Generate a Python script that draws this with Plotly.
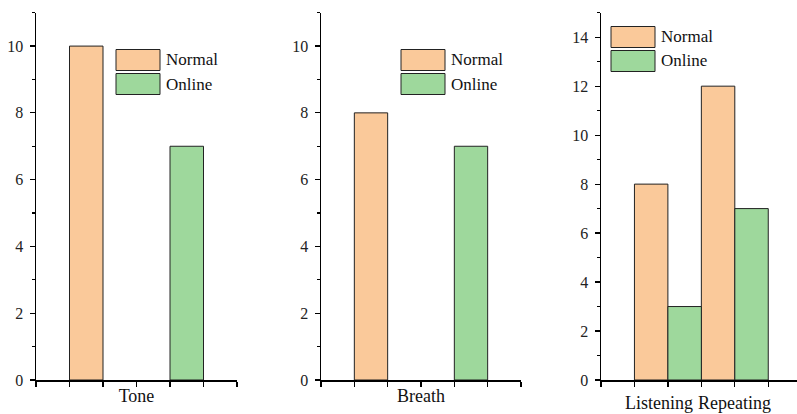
import plotly.graph_objects as go

# ---- data ----
categories = ["Tone", "Breath", "Listening", "Repeating"]
series_names = ["Normal", "Online"]
normal = [10, 8, 8, 12]
online = [7, 7, 3, 7]

# ---- style ----
W, H = 797, 414
FONT = "Liberation Serif"
C_NORMAL = "#FAC99A"
C_ONLINE = "#9ED89C"
EDGE = "#222222"
colors = [C_NORMAL, C_ONLINE]

def px_x(x):
    return x / W

def px_y(y):
    return 1 - y / H

fig = go.Figure()

# panels 1 & 2: one category each, Normal / Online bars separated
for p in range(2):
    xa = "x" if p == 0 else "x2"
    ya = "y" if p == 0 else "y2"
    vals = [normal[p], online[p]]
    for s in range(2):
        fig.add_trace(go.Bar(
            x=[1.5 + 3 * s], y=[vals[s]], width=1,
            name=series_names[s], marker=dict(color=colors[s], line=dict(color=EDGE, width=1)),
            xaxis=xa, yaxis=ya, showlegend=False))

# panel 3: Listening & Repeating grouped
for s, vals in enumerate([normal[2:], online[2:]]):
    fig.add_trace(go.Bar(
        x=[1.5 + s + 2 * k for k in range(len(vals))], y=vals, width=1,
        name=series_names[s], marker=dict(color=colors[s], line=dict(color=EDGE, width=1)),
        xaxis="x3", yaxis="y3", showlegend=False))

ydom = [34 / H, (H - 12.7) / H]
common_x = dict(showline=True, linecolor="black", linewidth=1.5, ticks="outside", ticklen=5,
                tickcolor="black", tickwidth=1.2, dtick=1, tick0=0, showticklabels=False,
                showgrid=False, zeroline=False, fixedrange=True, automargin=False)
common_y = dict(showline=True, linecolor="black", linewidth=1.5, ticks="outside", ticklen=5,
                tickcolor="black", tickwidth=1.2, tick0=0, showgrid=False, zeroline=False,
                automargin=False, ticklabelstandoff=3, fixedrange=True,
                tickfont=dict(family=FONT, size=16, color="#222"),
                minor=dict(ticks="outside", ticklen=3, dtick=1, tick0=0, tickcolor="black", tickwidth=1.2),
                domain=ydom)

title_font = dict(family=FONT, size=18, color="#111")
fig.update_layout(
    template="none",
    width=W, height=H, margin=dict(l=0, r=0, t=0, b=0, pad=0),
    paper_bgcolor="white", plot_bgcolor="white",
    font=dict(family=FONT, color="#222"),
    xaxis=dict(common_x, domain=[px_x(36), px_x(237)], range=[0, 6], anchor="y",
               title=dict(text=categories[0], font=title_font, standoff=4)),
    xaxis2=dict(common_x, domain=[px_x(321), px_x(521)], range=[0, 6], anchor="y2",
                title=dict(text=categories[1], font=title_font, standoff=4)),
    xaxis3=dict(common_x, domain=[px_x(601), 1.0], range=[0, 196 / 33.45], anchor="y3"),
    yaxis=dict(common_y, range=[0, 11], dtick=2, anchor="x"),
    yaxis2=dict(common_y, range=[0, 11], dtick=2, anchor="x2"),
    yaxis3=dict(common_y, range=[0, 15], dtick=2, anchor="x3"),
)

# panel 3 category labels
for k, lx in enumerate([1.72, 4.0]):
    fig.add_annotation(x=lx, xref="x3", y=0, yref="paper", text=categories[2 + k],
                       showarrow=False, font=title_font, xanchor="center", yanchor="bottom",
                       borderpad=0)

# legends (drawn as boxes + text, Origin style)
legend_pos = [(116, 49.5), (401, 49.5), (611, 26.5)]
for (lx, ly) in legend_pos:
    for s in range(2):
        y0 = ly + s * 24
        fig.add_shape(type="rect", xref="paper", yref="paper",
                      x0=px_x(lx), x1=px_x(lx + 44), y0=px_y(y0), y1=px_y(y0 + 21),
                      fillcolor=colors[s], line=dict(color=EDGE, width=1))
        fig.add_annotation(x=px_x(lx + 48), y=px_y(y0 + 10.5), xref="paper", yref="paper",
                           text=series_names[s], showarrow=False, xanchor="left", yanchor="middle",
                           font=dict(family=FONT, size=17, color="#111"))

fig.write_html("out.html", config={"displayModeBar": False, "staticPlot": True},
               post_script="document.body.style.margin='0';document.body.style.overflow='hidden';")
